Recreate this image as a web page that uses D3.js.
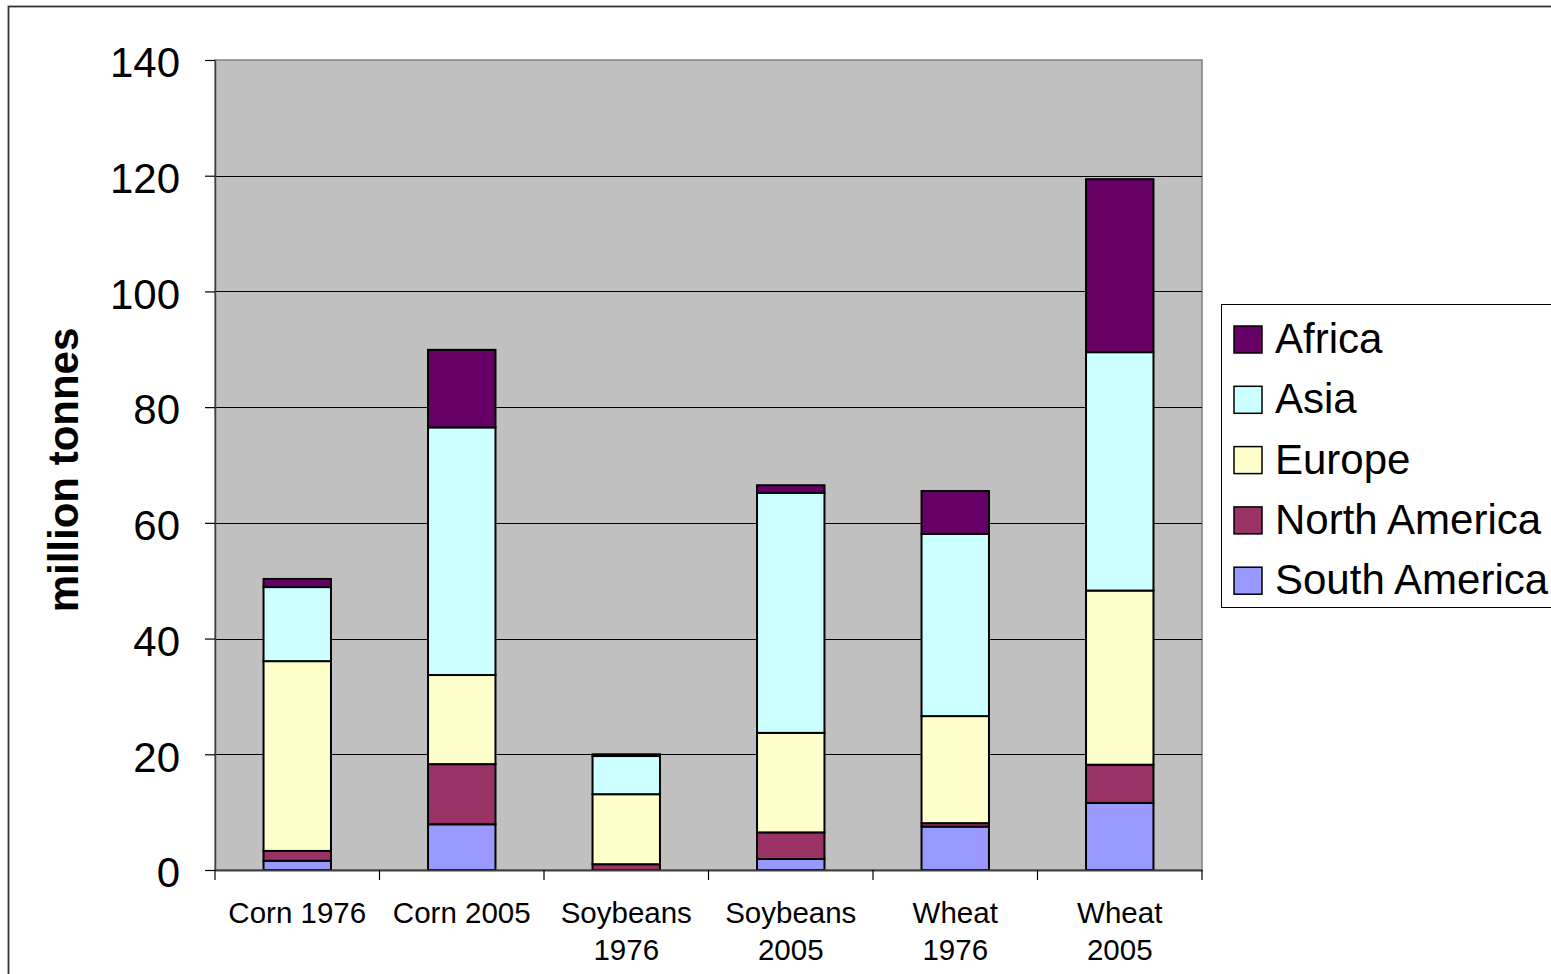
<!DOCTYPE html>
<html><head><meta charset="utf-8">
<script src="https://cdn.jsdelivr.net/npm/d3@7"></script>
<style>html,body{margin:0;padding:0;background:#fff;overflow:hidden}text{font-family:"Liberation Sans",Arial,sans-serif}</style>
</head><body>
<svg id="c" width="1551" height="974"></svg>
<script>
const categories = [["Corn 1976"],["Corn 2005"],["Soybeans","1976"],["Soybeans","2005"],["Wheat","1976"],["Wheat","2005"]];
const series = ["South America","North America","Europe","Asia","Africa"];
const southAmerica = [1.6, 7.9, 0.0, 1.9, 7.5, 11.6];
const northAmerica = [1.7, 10.4, 1.0, 4.6, 0.6, 6.6];
const europe       = [32.8, 15.4, 12.1, 17.2, 18.5, 30.1];
const asia         = [12.8, 42.8, 6.6, 41.5, 31.5, 41.2];
const africa       = [1.4, 13.4, 0.3, 1.3, 7.4, 29.9];
const yTicks = [0,20,40,60,80,100,120,140];
const legendOrder = ["Africa","Asia","Europe","North America","South America"];
const colors = {"Africa":"#660066","Asia":"#CCFFFF","Europe":"#FFFFCC","North America":"#993366","South America":"#9999FF"};

const valuesBySeries = {"South America":southAmerica,"North America":northAmerica,"Europe":europe,"Asia":asia,"Africa":africa};
const rows = categories.map((c,i)=>{const r={key:c.join(" ")};series.forEach(s=>r[s]=valuesBySeries[s][i]);return r;});
const stacked = d3.stack().keys(series)(rows);

const svg = d3.select("#c");
// outer frame
svg.append("rect").attr("x",8.5).attr("y",6.5).attr("width",1700).attr("height",1200)
  .attr("fill","#fff").attr("stroke","#333").attr("stroke-width",1.8);

const L=215,R=1202,T=60,B=870;
const x = d3.scaleBand().domain(rows.map(r=>r.key)).range([L,R]).paddingInner(0.59).paddingOuter(0.295);
const xTick = d3.scaleBand().domain(rows.map(r=>r.key)).range([L,R]);
const y = d3.scaleLinear().domain([0,140]).range([B,T]);

svg.append("rect").attr("x",L).attr("y",T).attr("width",R-L).attr("height",B-T)
  .attr("fill","#C0C0C0").attr("stroke","#808080").attr("stroke-width",1.5);

// gridlines
svg.append("g").selectAll("line").data(yTicks.filter(t=>t>0&&t<140)).join("line")
  .attr("x1",L).attr("x2",R).attr("y1",d=>Math.round(y(d))+0.5).attr("y2",d=>Math.round(y(d))+0.5)
  .attr("stroke","#000").attr("stroke-width",1);

// y axis
const yAxis = d3.axisLeft(y).tickValues(yTicks).tickSize(10).tickPadding(25).tickSizeOuter(0);
const gy = svg.append("g").attr("transform",`translate(${L},0)`).call(yAxis);
gy.select(".domain").attr("stroke","#404040").attr("stroke-width",1.5);
gy.selectAll(".tick line").attr("stroke","#000").attr("stroke-width",1.2);
gy.selectAll(".tick text").attr("font-size",42).attr("fill","#000").attr("dy","0.4em").attr("font-family","Liberation Sans, Arial, sans-serif");

// bars
svg.append("g").selectAll("g").data(stacked).join("g").attr("fill",d=>colors[d.key])
  .selectAll("rect").data(d=>d.map(v=>({v,key:v.data.key}))).join("rect")
  .attr("x",d=>x(d.key)).attr("width",x.bandwidth())
  .attr("y",d=>y(d.v[1])).attr("height",d=>Math.max(0,y(d.v[0])-y(d.v[1])))
  .attr("stroke","#000").attr("stroke-width",2)
  .style("display",d=>(d.v[1]-d.v[0])>0?null:"none");

// x axis
const xAxis = d3.axisBottom(xTick).tickSize(0).tickFormat("");
const gx = svg.append("g").attr("transform",`translate(0,${B})`).call(xAxis);
gx.select(".domain").attr("stroke","#404040").attr("stroke-width",2);
const bounds = rows.map(r=>xTick(r.key)).concat([R]);
svg.append("g").selectAll("line").data(bounds).join("line")
  .attr("x1",d=>d).attr("x2",d=>d).attr("y1",B).attr("y2",B+10).attr("stroke","#000").attr("stroke-width",1.2);

// x labels
const lab = svg.append("g").selectAll("text").data(rows.map((r,i)=>({key:r.key,lines:categories[i]}))).join("text")
  .attr("x",d=>xTick(d.key)+xTick.bandwidth()/2).attr("y",923)
  .attr("text-anchor","middle").attr("font-size",29.5).attr("fill","#000");
lab.selectAll("tspan").data(d=>d.lines.map((l,j)=>({l,j,x:xTick(d.key)+xTick.bandwidth()/2}))).join("tspan")
  .attr("x",d=>d.x).attr("dy",d=>d.j===0?0:37).text(d=>d.l);

// y label
svg.append("text").attr("transform","translate(78,470) rotate(-90)").attr("text-anchor","middle")
  .attr("font-size",42).attr("font-weight","bold").attr("fill","#000").text("million tonnes");

// legend
const lg = svg.append("g");
lg.append("rect").attr("x",1221.5).attr("y",304.5).attr("width",400).attr("height",303)
  .attr("fill","#fff").attr("stroke","#000").attr("stroke-width",1);
const items = lg.selectAll("g.item").data(legendOrder).join("g").attr("class","item")
  .attr("transform",(d,i)=>`translate(0,${326+i*60.3})`);
items.append("rect").attr("x",1234).attr("y",0).attr("width",28).attr("height",27)
  .attr("fill",d=>colors[d]).attr("stroke","#000").attr("stroke-width",1.5);
items.append("text").attr("x",1275).attr("y",27).attr("font-size",42).attr("fill","#000").text(d=>d);
</script>
</body></html>
